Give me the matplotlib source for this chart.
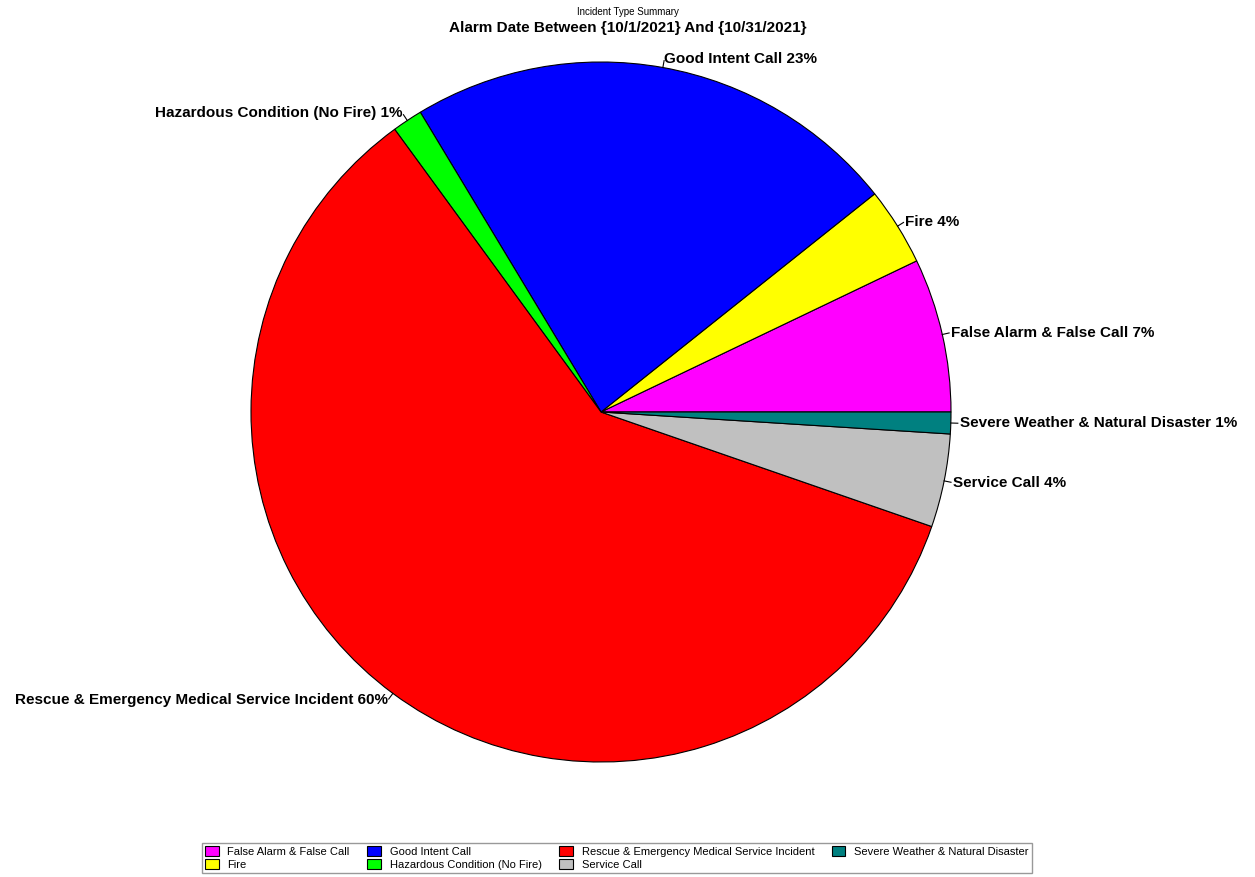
import numpy as np
import matplotlib
matplotlib.use("Agg")
import matplotlib.pyplot as plt

labels = ["False Alarm & False Call", "Fire", "Good Intent Call",
          "Hazardous Condition (No Fire)", "Rescue & Emergency Medical Service Incident",
          "Service Call", "Severe Weather & Natural Disaster"]
values = [7.1, 3.6, 22.9, 1.4, 59.6, 4.3, 1.0]
pct_text = ["7%", "4%", "23%", "1%", "60%", "4%", "1%"]
colors = ["#ff00ff", "#ffff00", "#0000ff", "#00ff00", "#ff0000", "#c0c0c0", "#008080"]

plt.rcParams['font.family'] = ['Liberation Sans', 'DejaVu Sans']
fig = plt.figure(figsize=(12.55, 8.77), dpi=100)
ax = fig.add_axes([251/1255, (877-762)/877, 700/1255, 700/877])
wedges, _ = ax.pie(values, colors=colors, startangle=0, counterclock=True,
                   wedgeprops=dict(edgecolor="black", linewidth=0.8), radius=1.0)
ax.set_xlim(-1, 1)
ax.set_ylim(-1, 1)
ax.set_aspect('auto')

for w, lab, p in zip(wedges, labels, pct_text):
    ang = np.deg2rad((w.theta1 + w.theta2) / 2)
    c, s = np.cos(ang), np.sin(ang)
    ax.plot([c, 1.02 * c], [s, 1.02 * s], color="black", lw=0.8, clip_on=False)
    ax.text(1.025 * c, 1.025 * s, f"{lab} {p}", ha="left" if c >= 0 else "right",
            va="center", fontsize=11, fontweight="bold", clip_on=False)

fig.text(0.5, 1 - 12/877, "Incident Type Summary", ha="center", va="center", fontsize=7)
fig.text(0.5, 1 - 28/877, "Alarm Date Between {10/1/2021} And {10/31/2021}",
         ha="center", va="center", fontsize=11, fontweight="bold")

fig.legend(wedges, labels, ncol=4, loc="center", bbox_to_anchor=(617/1255, 1 - 858/877),
           fontsize=8, frameon=True, fancybox=False, edgecolor="#808080",
           handlelength=1.2, handleheight=1.0, columnspacing=1.6, borderpad=0.3,
           labelspacing=0.2)
fig.savefig("out.png", dpi=100)
